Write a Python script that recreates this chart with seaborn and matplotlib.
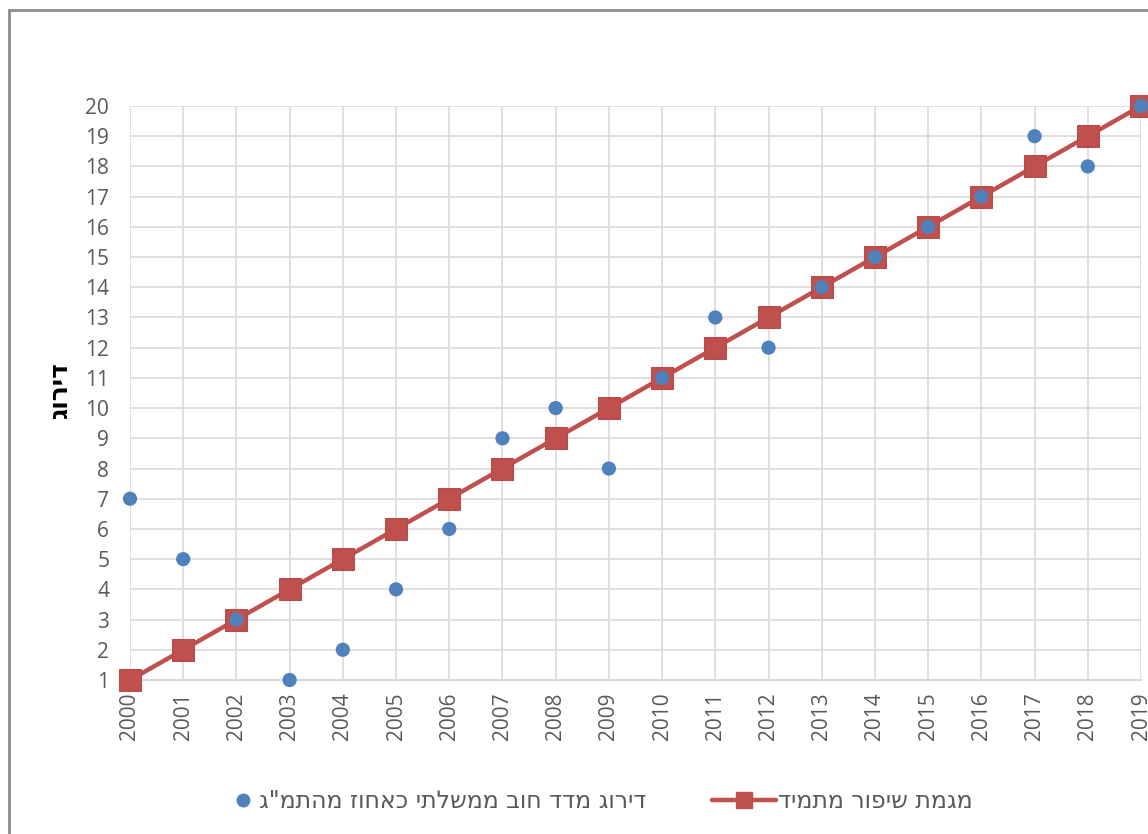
import matplotlib
matplotlib.use("Agg")
import matplotlib.pyplot as plt
from matplotlib.lines import Line2D
from matplotlib.patches import Rectangle
import seaborn as sns
import pandas as pd

years = list(range(2000, 2020))
debt_rank = [7, 5, 3, 1, 2, 4, 6, 9, 10, 8, 11, 13, 12, 14, 15, 16, 17, 19, 18, 20]
trend_rank = list(range(1, 21))
y_ticks = list(range(1, 21))

label_debt = 'דירוג מדד חוב ממשלתי כאחוז מהתמ"ג'
label_trend = "מגמת שיפור מתמיד"
label_y = "דירוג"


def rtl(s):
    # matplotlib lays text out left to right, so Hebrew is reversed for display
    return s[::-1]


sns.set_style("white")
plt.rcParams["font.family"] = ["Open Sans", "DejaVu Sans"]

df = pd.DataFrame({"year": years, "debt": debt_rank, "trend": trend_rank})

W, H = 1148, 834
fig = plt.figure(figsize=(W / 100, H / 100), dpi=100)
ax = fig.add_axes([130 / W, 1 - 680 / H, (1141 - 130) / W, (680 - 106) / H])

red = "#C0504D"
blue = "#4F81BD"
grid = "#D9D9D9"
tick_color = "#595959"

sns.lineplot(data=df, x="year", y="trend", ax=ax, color=red, linewidth=3.2,
             marker="s", markersize=15.5, markeredgecolor="#B84A47",
             markerfacecolor=red, clip_on=False, zorder=3)
sns.scatterplot(data=df, x="year", y="debt", ax=ax, color=blue, s=105,
                edgecolor="none", clip_on=False, zorder=4)

ax.set_xlim(2000, 2019)
ax.set_ylim(1, 20)
ax.set_xticks(years)
ax.set_xticklabels([str(y) for y in years], rotation=90)
ax.set_yticks(y_ticks)
ax.tick_params(axis="both", labelsize=15, colors=tick_color, length=0)
ax.tick_params(axis="y", pad=15)
ax.tick_params(axis="x", pad=9)
ax.grid(True, color=grid, linewidth=1.2)
for side in ["top", "right", "left"]:
    ax.spines[side].set_visible(False)
ax.spines["bottom"].set_color(grid)
ax.spines["bottom"].set_linewidth(1.5)
ax.set_axisbelow(True)
ax.set_xlabel("")
ax.set_ylabel(rtl(label_y), fontsize=18, fontweight="bold", color="#000000",
              family=["DejaVu Sans"])
ax.yaxis.set_label_coords((72 - 130) / (1141 - 130), (680 - 390) / (680 - 106))

legend_font = {"family": ["DejaVu Sans"], "size": 17}

# scatter series entry
fig.legend([Line2D([], [], linestyle="none", marker="o", markersize=10,
                   markerfacecolor=blue, markeredgecolor="none")],
           [rtl(label_debt)], loc="center left",
           bbox_to_anchor=(235 / W, 1 - 801 / H), frameon=False, prop=legend_font,
           handlelength=0.7, handletextpad=0.3, borderpad=0, borderaxespad=0,
           labelcolor=tick_color)

# trend line entry
fig.legend([Line2D([], [], color=red, linewidth=3.2, marker="s", markersize=12,
                   markerfacecolor=red, markeredgecolor=red)],
           [rtl(label_trend)], loc="center left",
           bbox_to_anchor=(712 / W, 1 - 801 / H), frameon=False, prop=legend_font,
           handlelength=2.7, handletextpad=0.08, borderpad=0, borderaxespad=0,
           labelcolor=tick_color)

fig.patches.append(Rectangle((9 / W, -0.05), 1.2, 1 - 10 / H + 0.05,
                             transform=fig.transFigure, fill=False,
                             edgecolor="#8C8C8C", linewidth=2, figure=fig))

fig.savefig("out.png", dpi=100)
